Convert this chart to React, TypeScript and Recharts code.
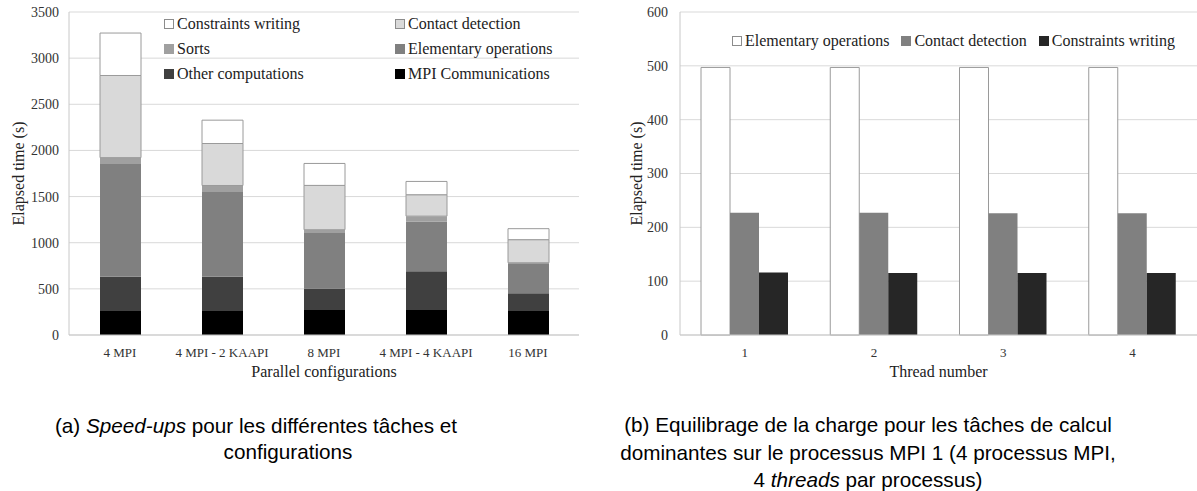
import { BarChart, Bar, XAxis, YAxis, CartesianGrid, Legend } from 'recharts'

// ─── (a) speed-ups ────────────────────────────────────────────────────────
const configs = ['4 MPI', '4 MPI - 2 KAAPI', '8 MPI', '4 MPI - 4 KAAPI', '16 MPI']
const mpiComm = [260, 260, 280, 270, 268]
const otherComp = [370, 370, 225, 420, 185]
const elementary = [1230, 920, 600, 540, 315]
const sorts = [62, 70, 36, 58, 15]
const contact = [890, 455, 480, 232, 250]
const constraints = [460, 253, 238, 144, 119]
const ticksA = [0, 500, 1000, 1500, 2000, 2500, 3000, 3500]

// ─── (b) load balancing ───────────────────────────────────────────────────
const threads = ['1', '2', '3', '4']
const elemOps = [497, 497, 497, 497]
const contactDet = [227, 227, 226, 226]
const constrWrite = [116, 115, 115, 115]
const ticksB = [0, 100, 200, 300, 400, 500, 600]

const dataA = configs.map((c, i) => ({
  cfg: c,
  mpi: mpiComm[i], other: otherComp[i], elem: elementary[i],
  sorts: sorts[i], contact: contact[i], constr: constraints[i],
}))
const dataB = threads.map((t, i) => ({
  thread: t, elem: elemOps[i], contact: contactDet[i], constr: constrWrite[i],
}))

const SERIF = "'Liberation Serif', 'Times New Roman', serif"
const SANS = "'Liberation Sans', Arial, sans-serif"
const xTick = { fontSize: 13, fill: '#333', fontFamily: SERIF }
const yTick = { fontSize: 14, fill: '#333', fontFamily: SERIF }
const axisLabel = { fontSize: 16, fill: '#222', fontFamily: SERIF }
const GRID = '#d9d9d9'

type Item = { name: string; fill: string; stroke?: string }

const legendA: Item[] = [
  { name: 'Constraints writing', fill: '#ffffff', stroke: '#8c8c8c' },
  { name: 'Contact detection', fill: '#d9d9d9', stroke: '#8c8c8c' },
  { name: 'Sorts', fill: '#a0a0a0' },
  { name: 'Elementary operations', fill: '#808080' },
  { name: 'Other computations', fill: '#404040' },
  { name: 'MPI Communications', fill: '#000000' },
]
const legendB: Item[] = [
  { name: 'Elementary operations', fill: '#ffffff', stroke: '#8c8c8c' },
  { name: 'Contact detection', fill: '#808080' },
  { name: 'Constraints writing', fill: '#262626' },
]

function Swatch({ it }: { it: Item }) {
  return (
    <span style={{
      display: 'inline-block', width: 8, height: 8, marginRight: 3,
      background: it.fill, border: `1px solid ${it.stroke ?? it.fill}`,
    }} />
  )
}

function LegendGrid() {
  return (
    <div style={{ display: 'grid', gridTemplateColumns: '231px 200px', rowGap: 6, fontFamily: SERIF, fontSize: 16, color: '#222' }}>
      {legendA.map(it => (
        <div key={it.name} style={{ display: 'flex', alignItems: 'center', height: 19, whiteSpace: 'nowrap' }}>
          <Swatch it={it} />{it.name}
        </div>
      ))}
    </div>
  )
}

function LegendRow() {
  return (
    <div style={{ display: 'flex', gap: 12, fontFamily: SERIF, fontSize: 16, color: '#222', whiteSpace: 'nowrap' }}>
      {legendB.map(it => (
        <div key={it.name} style={{ display: 'flex', alignItems: 'center' }}>
          <Swatch it={it} />{it.name}
        </div>
      ))}
    </div>
  )
}

function SpeedUps() {
  return (
    <BarChart width={600} height={400} data={dataA} margin={{ top: 12, right: 21, left: 0, bottom: 20 }}>
      <CartesianGrid vertical={false} stroke={GRID} />
      <XAxis dataKey="cfg" tick={xTick} tickLine={false} tickMargin={7} stroke="#c8c8c8" height={45}
        label={{ value: 'Parallel configurations', position: 'insideBottom', offset: 3, ...axisLabel }} />
      <YAxis domain={[0, 3500]} ticks={ticksA} tick={yTick} tickLine={false} tickMargin={4} stroke="#c8c8c8" width={69}
        label={{ value: 'Elapsed time (s)', angle: -90, position: 'center', dx: -16, ...axisLabel }} />
      <Legend content={<LegendGrid />} layout="horizontal" verticalAlign="middle" align="center" wrapperStyle={{ top: 14, left: 164, width: 'auto' }} />
      <Bar dataKey="mpi" stackId="a" fill="#000000" barSize={41} isAnimationActive={false} />
      <Bar dataKey="other" stackId="a" fill="#404040" barSize={41} isAnimationActive={false} />
      <Bar dataKey="elem" stackId="a" fill="#808080" barSize={41} isAnimationActive={false} />
      <Bar dataKey="sorts" stackId="a" fill="#a0a0a0" barSize={41} isAnimationActive={false} />
      <Bar dataKey="contact" stackId="a" fill="#d9d9d9" stroke="#9a9a9a" barSize={41} isAnimationActive={false} />
      <Bar dataKey="constr" stackId="a" fill="#ffffff" stroke="#9a9a9a" barSize={41} isAnimationActive={false} />
    </BarChart>
  )
}

function LoadBalance() {
  return (
    <BarChart width={597} height={400} data={dataB} barGap={0} margin={{ top: 12, right: 0, left: 0, bottom: 20 }}>
      <CartesianGrid vertical={false} stroke={GRID} />
      <XAxis dataKey="thread" tick={xTick} tickLine={false} tickMargin={7} stroke="#c8c8c8" height={45}
        label={{ value: 'Thread number', position: 'insideBottom', offset: 3, ...axisLabel }} />
      <YAxis domain={[0, 600]} ticks={ticksB} tick={yTick} tickLine={false} tickMargin={6} stroke="#c8c8c8" width={80}
        label={{ value: 'Elapsed time (s)', angle: -90, position: 'center', dx: -4, ...axisLabel }} />
      <Legend content={<LegendRow />} layout="horizontal" verticalAlign="middle" align="center" wrapperStyle={{ top: 32, left: 132, width: 'auto' }} />
      <Bar dataKey="elem" fill="#ffffff" stroke="#9a9a9a" barSize={29} isAnimationActive={false} />
      <Bar dataKey="contact" fill="#808080" barSize={29} isAnimationActive={false} />
      <Bar dataKey="constr" fill="#262626" barSize={29} isAnimationActive={false} />
    </BarChart>
  )
}

const capStyle = { position: 'absolute' as const, fontFamily: SANS, fontSize: 20.7, lineHeight: '27.5px', color: '#000', textAlign: 'center' as const, whiteSpace: 'nowrap' as const }

export default function App() {
  return (
    <div style={{ position: 'absolute', left: 0, top: 0, width: 1197, height: 491, background: '#fff', overflow: 'hidden' }}>
      <div style={{ position: 'absolute', left: 0, top: 0 }}><SpeedUps /></div>
      <div style={{ position: 'absolute', left: 600, top: 0 }}><LoadBalance /></div>
      <div style={{ ...capStyle, left: 6, width: 500, top: 412 }}>
        (a) <i>Speed-ups</i> pour les différentes tâches et
      </div>
      <div style={{ ...capStyle, left: 188, width: 200, top: 438 }}>configurations</div>
      <div style={{ ...capStyle, left: 598, width: 540, top: 411 }}>
        (b) Equilibrage de la charge pour les tâches de calcul<br />
        dominantes sur le processus MPI 1 (4 processus MPI,<br />
        4 <i>threads</i> par processus)
      </div>
    </div>
  )
}
